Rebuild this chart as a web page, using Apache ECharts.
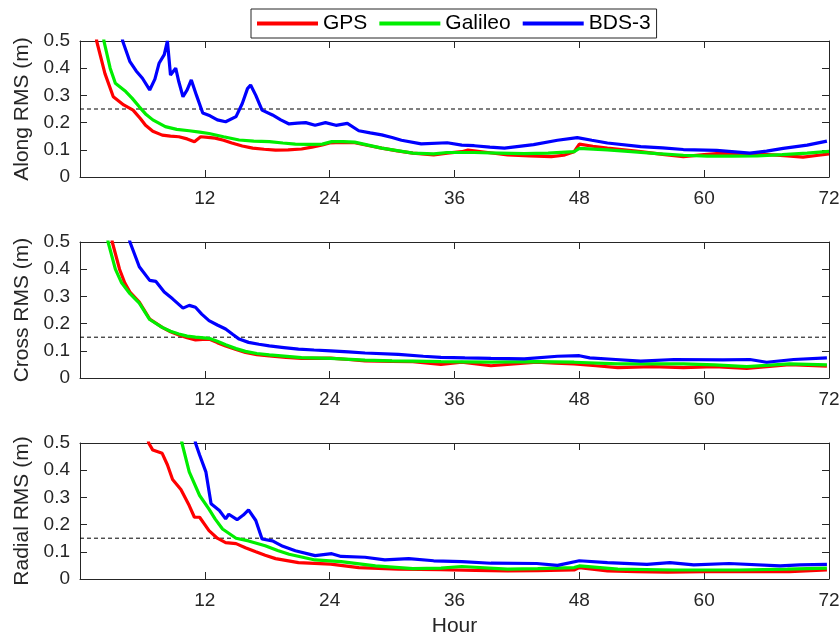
<!DOCTYPE html>
<html>
<head>
<meta charset="utf-8">
<script src="https://cdn.jsdelivr.net/npm/echarts@6/dist/echarts.min.js"></script>
<style>
html,body{margin:0;padding:0;background:#fff;}
#chart{width:840px;height:637px;}
</style>
</head>
<body>
<div id="chart"></div>
<script>
// ---------- data (hour, RMS in m) ----------
const xTicks = [12, 24, 36, 48, 60, 72];
const seriesNames = ['GPS', 'Galileo', 'BDS-3'];
const panelNames = ['Along RMS (m)', 'Cross RMS (m)', 'Radial RMS (m)'];
const thresholds = [0.25, 0.15, 0.15];

const alongGPS = [[0.8,1.0],[1.6,0.5],[2.4,0.38],[3.2,0.295],[4.2,0.265],[5.1,0.246],[5.8,0.215],[6.3,0.19],[7,0.168],[7.9,0.154],[8.7,0.15],[9.5,0.148],[10.3,0.14],[11,0.13],[11.6,0.148],[12.3,0.146],[13,0.143],[13.8,0.135],[14.6,0.125],[15.6,0.114],[16.6,0.106],[17.7,0.102],[18.8,0.099],[20,0.1],[21.3,0.103],[22.3,0.11],[23.3,0.118],[24,0.125],[25.2,0.127],[26.4,0.126],[27.7,0.116],[29,0.106],[30.5,0.096],[32,0.088],[34,0.081],[35.3,0.088],[36.7,0.093],[37.3,0.099],[39.2,0.09],[41.1,0.081],[43.2,0.078],[45.3,0.075],[46.5,0.08],[47.5,0.093],[48,0.121],[49.3,0.113],[50.7,0.106],[52.3,0.1],[53.9,0.093],[56,0.083],[58,0.075],[60,0.082],[61.8,0.088],[64.2,0.085],[66.6,0.081],[68,0.078],[69.5,0.073],[71,0.08],[72,0.085]];
const alongGalileo = [[1.3,1.0],[2.3,0.5],[2.9,0.4],[3.4,0.345],[4.4,0.314],[5.0,0.29],[5.7,0.258],[6.3,0.232],[7,0.21],[8.2,0.185],[9.3,0.175],[10.5,0.17],[11.5,0.165],[12.4,0.16],[13.8,0.148],[15.3,0.136],[16.7,0.132],[18.2,0.13],[19.5,0.125],[20.7,0.121],[22,0.12],[23.3,0.121],[24.2,0.13],[25.3,0.13],[26.4,0.128],[27.7,0.117],[29,0.106],[30.5,0.097],[32,0.088],[34,0.085],[35.3,0.09],[37.9,0.09],[40.3,0.088],[42.7,0.086],[45,0.088],[47.5,0.093],[48,0.105],[50.7,0.1],[53,0.093],[55.5,0.086],[58,0.08],[60.3,0.077],[62.7,0.077],[65.1,0.078],[67.5,0.082],[69.9,0.088],[72,0.094]];
const alongBDS = [[3.5,0.7],[4.1,0.5],[4.8,0.424],[5.4,0.39],[6,0.363],[6.7,0.32],[7.2,0.36],[7.6,0.418],[8.1,0.45],[8.4,0.5],[8.7,0.375],[9.2,0.4],[9.5,0.35],[9.9,0.295],[10.3,0.32],[10.7,0.357],[11.2,0.3],[11.8,0.235],[12.5,0.225],[13.2,0.21],[14,0.203],[15,0.222],[15.6,0.27],[16.1,0.325],[16.4,0.338],[16.9,0.3],[17.5,0.246],[18.5,0.228],[19.3,0.21],[20.1,0.195],[20.9,0.198],[21.7,0.2],[22.6,0.19],[23.6,0.2],[24.6,0.19],[25.7,0.197],[26.8,0.17],[27.9,0.162],[29,0.155],[30,0.145],[30.9,0.135],[32.8,0.122],[35.3,0.126],[36.7,0.117],[37.9,0.115],[39.4,0.11],[40.8,0.106],[43.6,0.119],[45.9,0.135],[47.8,0.145],[49.2,0.135],[50.7,0.125],[53.9,0.112],[56,0.107],[58,0.101],[61.2,0.098],[64.4,0.088],[66,0.095],[67.6,0.105],[69.9,0.117],[71.8,0.132]];

const crossGPS = [[1.8,1.0],[3.1,0.5],[3.8,0.4],[4.3,0.35],[4.8,0.316],[5.7,0.279],[6.7,0.217],[7.9,0.186],[8.7,0.17],[9.5,0.158],[10.3,0.148],[11.1,0.14],[11.8,0.142],[12.4,0.143],[13.2,0.13],[14,0.118],[15,0.105],[15.9,0.094],[17,0.086],[18.2,0.081],[19.8,0.076],[21.3,0.072],[24.1,0.073],[25.8,0.068],[27.4,0.063],[30,0.061],[32,0.06],[34.7,0.05],[36.7,0.058],[39.5,0.045],[41.7,0.052],[43.9,0.058],[45.7,0.055],[47.5,0.052],[49.6,0.045],[51.7,0.038],[55,0.042],[58,0.038],[61,0.042],[64.1,0.035],[66,0.042],[68.2,0.049],[70,0.046],[71.8,0.044]];
const crossGalileo = [[1.5,1.0],[2.7,0.5],[3.4,0.4],[4,0.35],[4.8,0.31],[5.7,0.275],[6.7,0.215],[7.9,0.186],[8.7,0.172],[9.5,0.162],[10.3,0.154],[11.1,0.15],[12.4,0.146],[13.2,0.135],[14,0.122],[15,0.108],[15.9,0.098],[17,0.09],[18.2,0.085],[21.3,0.075],[24.1,0.072],[27.4,0.066],[30,0.063],[32,0.062],[34.7,0.06],[39.5,0.058],[43.9,0.06],[47.5,0.058],[51.7,0.052],[58,0.052],[61,0.048],[64.1,0.042],[68.2,0.052],[71.8,0.048]];
const crossBDS = [[3.5,0.75],[4.8,0.5],[5.7,0.409],[6.7,0.359],[7.3,0.355],[8.1,0.316],[8.9,0.291],[9.9,0.257],[10.5,0.267],[11.1,0.26],[11.7,0.235],[12.4,0.211],[13.2,0.195],[14,0.18],[14.7,0.16],[15.3,0.143],[16.2,0.131],[17.2,0.124],[18.2,0.118],[19.6,0.112],[21,0.106],[22.5,0.103],[24.1,0.1],[25.8,0.096],[27.4,0.092],[30.6,0.087],[33,0.08],[34.7,0.076],[37,0.074],[39.5,0.072],[42.7,0.07],[45.9,0.08],[48,0.082],[49,0.074],[51.5,0.068],[53.9,0.062],[57.1,0.068],[61.8,0.067],[64.4,0.068],[66,0.058],[68.6,0.068],[71.8,0.074]];

const radialGPS = [[5.5,0.8],[6.6,0.5],[7,0.474],[7.9,0.462],[8.4,0.42],[8.9,0.366],[9.7,0.329],[10.5,0.27],[11,0.227],[11.5,0.227],[12.4,0.178],[13.2,0.15],[14,0.134],[15,0.13],[15.9,0.115],[16.9,0.1],[17.8,0.087],[18.8,0.075],[21,0.06],[24.1,0.055],[26.8,0.042],[30.6,0.036],[34.7,0.034],[38,0.032],[41.1,0.03],[44,0.031],[47.5,0.033],[48,0.042],[50.7,0.03],[53.5,0.027],[56.5,0.025],[60,0.027],[63.4,0.028],[68.2,0.027],[71.8,0.033]];
const radialGalileo = [[9,0.7],[9.8,0.5],[10.5,0.394],[11.5,0.307],[12.4,0.257],[13.0,0.22],[13.7,0.184],[15,0.15],[16.2,0.14],[17.8,0.122],[19,0.105],[20.1,0.091],[22.6,0.07],[25.1,0.064],[28.4,0.048],[32,0.038],[34.7,0.04],[36.7,0.046],[41.1,0.036],[44,0.038],[47.5,0.042],[48,0.048],[51.7,0.036],[57.1,0.033],[63.4,0.033],[68,0.036],[71.8,0.04]];
const radialBDS = [[10.5,0.7],[11.1,0.5],[11.5,0.456],[12.1,0.394],[12.6,0.277],[13.4,0.252],[14,0.221],[14.3,0.238],[15.1,0.218],[15.7,0.235],[16.2,0.254],[16.9,0.215],[17.5,0.147],[18.5,0.14],[19.5,0.12],[20.7,0.104],[22.6,0.086],[24.2,0.093],[25.1,0.083],[27.4,0.08],[29.3,0.07],[31.6,0.075],[34,0.067],[36.7,0.064],[39.5,0.058],[43.9,0.057],[45.9,0.05],[48,0.067],[50.7,0.06],[54.5,0.054],[56.7,0.06],[59,0.052],[62.4,0.057],[67.3,0.048],[69.2,0.052],[71.8,0.054]];

const panels = [
  [alongGPS, alongGalileo, alongBDS],
  [crossGPS, crossGalileo, crossBDS],
  [radialGPS, radialGalileo, radialBDS]
];

// ---------- styling ----------
const colors = ['#ff0000', '#00ee00', '#0000ff'];
const axisColor = '#262626';
const FONT = 'Liberation Sans, Arial, sans-serif';
const gridTops = [41, 242, 443];
const gridH = 136;
const gridLeft = 80, gridW = 749;

const grids = [], xAxes = [], yAxes = [], series = [];
gridTops.forEach((top, i) => {
  grids.push({left: gridLeft, top: top, width: gridW, height: gridH, containLabel: false, outerBoundsMode: 'none'});
  const baseX = {
    gridIndex: i, type: 'value', min: 0, max: 72, interval: 12,
    axisLine: {show: true, onZero: false, lineStyle: {color: axisColor, width: 1}},
    axisTick: {show: true, inside: true, length: 7, lineStyle: {color: axisColor}},
    splitLine: {show: false}
  };
  xAxes.push(Object.assign({}, baseX, {
    position: 'bottom',
    axisLabel: {show: true, fontSize: 19, fontFamily: FONT, color: axisColor, margin: 12,
      formatter: v => (xTicks.indexOf(v) >= 0 ? String(v) : '')},
    name: i === 2 ? 'Hour' : '',
    nameLocation: 'middle', nameGap: 37,
    nameTextStyle: {fontSize: 21, fontFamily: FONT, color: axisColor}
  }));
  xAxes.push(Object.assign({}, baseX, {position: 'top', axisLabel: {show: false}}));
  const baseY = {
    gridIndex: i, type: 'value', min: 0, max: 0.5, interval: 0.1,
    axisLine: {show: true, onZero: false, lineStyle: {color: axisColor, width: 1}},
    axisTick: {show: true, inside: true, length: 7, lineStyle: {color: axisColor}},
    splitLine: {show: false}
  };
  yAxes.push(Object.assign({}, baseY, {
    position: 'left',
    axisLabel: {show: true, fontSize: 19, fontFamily: FONT, color: axisColor, margin: 10,
      formatter: v => (Math.abs(v) < 1e-9 ? '0' : v.toFixed(1))},
    name: panelNames[i], nameLocation: 'middle', nameGap: 43, nameRotate: 90,
    nameTextStyle: {fontSize: 21, fontFamily: FONT, color: axisColor}
  }));
  yAxes.push(Object.assign({}, baseY, {position: 'right', axisLabel: {show: false}}));

  // threshold dashed line
  series.push({
    type: 'line', xAxisIndex: i * 2, yAxisIndex: i * 2,
    data: [[0, thresholds[i]], [72, thresholds[i]]],
    symbol: 'none', silent: true, z: 1,
    lineStyle: {color: '#000', width: 1, type: [4, 3]}
  });
  panels[i].forEach((d, k) => {
    series.push({
      name: seriesNames[k], type: 'line', xAxisIndex: i * 2, yAxisIndex: i * 2,
      data: d, symbol: 'none', clip: true, z: 2 + k,
      lineStyle: {color: colors[k], width: 3.2},
      itemStyle: {color: colors[k]}
    });
  });
});

const chart = echarts.init(document.getElementById('chart'), null, {renderer: 'canvas'});
chart.setOption({
  animation: false,
  backgroundColor: '#fff',
  legend: {
    data: seriesNames.map(n => ({name: n, icon: 'rect'})),
    left: 251, top: 9,
    itemWidth: 61, itemHeight: 4, itemGap: 12,
    padding: [4, 6],
    borderColor: axisColor, borderWidth: 1,
    backgroundColor: '#fff',
    textStyle: {fontSize: 21, fontFamily: FONT, color: '#000'}
  },
  grid: grids,
  xAxis: xAxes,
  yAxis: yAxes,
  series: series
});
</script>
</body>
</html>
